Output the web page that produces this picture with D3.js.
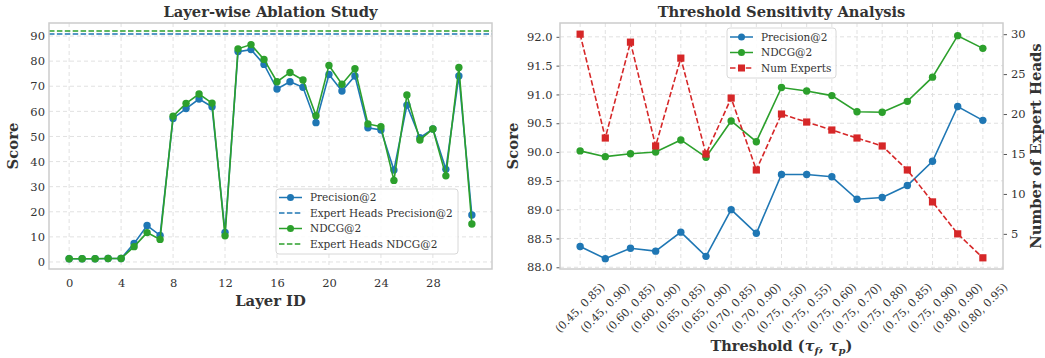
<!DOCTYPE html>
<html>
<head>
<meta charset="utf-8">
<script src="https://cdn.jsdelivr.net/npm/d3@7"></script>
<style>
  body { margin: 0; background: #fff; }
  text { font-family: "DejaVu Serif", serif; fill: #333; }
</style>
</head>
<body>
<div id="vis"></div>
<script>
// ---- data: layer-wise ablation ----
const layers = d3.range(32);
const layerPrecision = [1.3, 1.3, 1.3, 1.4, 1.4, 7.4, 14.5, 10.6, 57.2, 61.1, 64.9, 61.8, 11.8, 83.8, 84.6, 78.7,
  68.9, 71.8, 69.6, 55.5, 74.7, 68.1, 74.1, 53.5, 52.6, 36.6, 62.5, 49.5, 53.0, 36.9, 74.1, 18.7];
const layerNdcg = [1.3, 1.3, 1.3, 1.4, 1.4, 6.1, 11.7, 9.0, 58.1, 63.2, 66.9, 63.3, 10.4, 84.9, 86.6, 80.7,
  71.8, 75.5, 72.5, 58.3, 78.3, 70.8, 77.0, 55.0, 53.9, 32.5, 66.5, 48.6, 53.0, 34.3, 77.5, 15.1];
const expertPrecision = 90.8;
const expertNdcg = 92.0;
const layerTicks = [0, 4, 8, 12, 16, 20, 24, 28];
const scoreTicks = [0, 10, 20, 30, 40, 50, 60, 70, 80, 90];

// ---- data: threshold sensitivity ----
const thresholds = ["(0.45, 0.85)", "(0.45, 0.90)", "(0.60, 0.85)", "(0.60, 0.90)", "(0.65, 0.85)", "(0.65, 0.90)",
  "(0.70, 0.85)", "(0.70, 0.90)", "(0.75, 0.50)", "(0.75, 0.55)", "(0.75, 0.60)", "(0.75, 0.70)", "(0.75, 0.80)",
  "(0.75, 0.85)", "(0.75, 0.90)", "(0.80, 0.90)", "(0.80, 0.95)"];
const thrPrecision = [88.36, 88.15, 88.33, 88.28, 88.61, 88.19, 89.0, 88.59, 89.61, 89.61, 89.57, 89.18, 89.21,
  89.42, 89.84, 90.79, 90.55];
const thrNdcg = [90.02, 89.92, 89.97, 90.0, 90.21, 89.91, 90.54, 90.18, 91.12, 91.06, 90.98, 90.70, 90.69,
  90.88, 91.30, 92.02, 91.80];
const numExperts = [30, 17, 29, 16, 27, 15, 22, 13, 20, 19, 18, 17, 16, 13, 9, 5, 2];
const thrScoreTicks = [88.0, 88.5, 89.0, 89.5, 90.0, 90.5, 91.0, 91.5, 92.0];
const expertTicks = [5, 10, 15, 20, 25, 30];

const blue = "#1f77b4", green = "#2ca02c", red = "#d62728";
const gridColor = "#dedede", spineColor = "#cccccc";

const svg = d3.select("#vis").append("svg")
  .attr("width", 1045)
  .attr("height", 358);

// panel boxes (pixel frames of the two axes)
const p1 = { left: 49, top: 23, right: 492, bottom: 269 };
const p2 = { left: 560, top: 23, right: 1003, bottom: 269 };

// ================= left panel =================
const x1 = d3.scaleLinear().domain([-1.55, 32.55]).range([p1.left, p1.right]);
const y1 = d3.scaleLinear().domain([-2.8, 95.2]).range([p1.bottom, p1.top]);

const g1 = svg.append("g");

// grid
g1.selectAll(".vgrid").data(layerTicks).enter().append("line")
  .attr("x1", d => x1(d)).attr("x2", d => x1(d))
  .attr("y1", p1.top).attr("y2", p1.bottom)
  .attr("stroke", gridColor).attr("stroke-dasharray", "4,3").attr("stroke-width", 0.9);
g1.selectAll(".hgrid").data(scoreTicks).enter().append("line")
  .attr("x1", p1.left).attr("x2", p1.right)
  .attr("y1", d => y1(d)).attr("y2", d => y1(d))
  .attr("stroke", gridColor).attr("stroke-dasharray", "4,3").attr("stroke-width", 0.9);

// axes
const ax1 = g1.append("g")
  .attr("transform", `translate(0, ${p1.bottom})`)
  .call(d3.axisBottom(x1).tickValues(layerTicks).tickSize(0).tickPadding(10));
const ay1 = g1.append("g")
  .attr("transform", `translate(${p1.left}, 0)`)
  .call(d3.axisLeft(y1).tickValues(scoreTicks).tickSize(0).tickPadding(4));
[ax1, ay1].forEach(a => {
  a.select(".domain").remove();
  a.selectAll("text").attr("font-size", "11.5px").attr("font-family", "DejaVu Serif").style("fill", "#333");
});

// expert heads reference lines
g1.append("line")
  .attr("x1", p1.left).attr("x2", p1.right)
  .attr("y1", y1(expertPrecision)).attr("y2", y1(expertPrecision))
  .attr("stroke", blue).attr("stroke-width", 1.5).attr("stroke-dasharray", "5.5,2.4");
g1.append("line")
  .attr("x1", p1.left).attr("x2", p1.right)
  .attr("y1", y1(expertNdcg)).attr("y2", y1(expertNdcg))
  .attr("stroke", green).attr("stroke-width", 1.5).attr("stroke-dasharray", "5.5,2.4");

const line1 = d3.line().x((d, i) => x1(layers[i])).y(d => y1(d));
[[layerPrecision, blue], [layerNdcg, green]].forEach(([vals, color]) => {
  g1.append("path")
    .datum(vals)
    .attr("d", line1)
    .attr("fill", "none")
    .attr("stroke", color)
    .attr("stroke-width", 1.6);
  g1.selectAll(null).data(vals).enter().append("circle")
    .attr("cx", (d, i) => x1(layers[i]))
    .attr("cy", d => y1(d))
    .attr("r", 3.7)
    .attr("fill", color);
});

// frame
g1.append("rect")
  .attr("x", p1.left).attr("y", p1.top)
  .attr("width", p1.right - p1.left).attr("height", p1.bottom - p1.top)
  .attr("fill", "none").attr("stroke", spineColor).attr("stroke-width", 1.5);

// titles
g1.append("text")
  .attr("x", (p1.left + p1.right) / 2).attr("y", 17)
  .attr("text-anchor", "middle").attr("font-size", "14.7px").attr("font-weight", "bold")
  .text("Layer-wise Ablation Study");
g1.append("text")
  .attr("x", (p1.left + p1.right) / 2).attr("y", 306)
  .attr("text-anchor", "middle").attr("font-size", "14.8px").attr("font-weight", "bold")
  .text("Layer ID");
g1.append("text")
  .attr("transform", "rotate(-90)")
  .attr("x", -(p1.top + p1.bottom) / 2).attr("y", 18)
  .attr("text-anchor", "middle").attr("font-size", "14.8px").attr("font-weight", "bold")
  .text("Score");

// legend
const leg1 = g1.append("g").attr("transform", "translate(276, 189)");
leg1.append("rect")
  .attr("width", 182).attr("height", 65).attr("rx", 3)
  .attr("fill", "white").attr("fill-opacity", 0.85)
  .attr("stroke", "#d8d8d8");
const leg1Items = [
  { label: "Precision@2", color: blue, dash: null, marker: true },
  { label: "Expert Heads Precision@2", color: blue, dash: "5.5,2.4", marker: false },
  { label: "NDCG@2", color: green, dash: null, marker: true },
  { label: "Expert Heads NDCG@2", color: green, dash: "5.5,2.4", marker: false }
];
leg1Items.forEach((it, i) => {
  const row = leg1.append("g").attr("transform", `translate(0, ${8.5 + i * 15.5})`);
  row.append("line")
    .attr("x1", 3).attr("x2", 26).attr("y1", 0).attr("y2", 0)
    .attr("stroke", it.color).attr("stroke-width", 1.5)
    .attr("stroke-dasharray", it.dash);
  if (it.marker) row.append("circle").attr("cx", 14.5).attr("cy", 0).attr("r", 3.5).attr("fill", it.color);
  row.append("text")
    .attr("x", 34).attr("y", 0).attr("dy", "0.35em")
    .attr("font-size", "10.5px")
    .text(it.label);
});

// ================= right panel =================
const x2 = d3.scaleLinear().domain([-0.8, 16.8]).range([p2.left, p2.right]);
const y2 = d3.scaleLinear().domain([87.97, 92.24]).range([p2.bottom, p2.top]);
const y2r = d3.scaleLinear().domain([0.6, 31.4]).range([p2.bottom, p2.top]);

const g2 = svg.append("g");

g2.selectAll(".vgrid").data(thresholds).enter().append("line")
  .attr("x1", (d, i) => x2(i)).attr("x2", (d, i) => x2(i))
  .attr("y1", p2.top).attr("y2", p2.bottom)
  .attr("stroke", gridColor).attr("stroke-dasharray", "4,3").attr("stroke-width", 0.9);
g2.selectAll(".hgrid").data(thrScoreTicks).enter().append("line")
  .attr("x1", p2.left).attr("x2", p2.right)
  .attr("y1", d => y2(d)).attr("y2", d => y2(d))
  .attr("stroke", gridColor).attr("stroke-dasharray", "4,3").attr("stroke-width", 0.9);

const ay2 = g2.append("g")
  .attr("transform", `translate(${p2.left}, 0)`)
  .call(d3.axisLeft(y2).tickValues(thrScoreTicks).tickFormat(d3.format(".1f")).tickSize(3.5).tickPadding(4));
const ay2r = g2.append("g")
  .attr("transform", `translate(${p2.right}, 0)`)
  .call(d3.axisRight(y2r).tickValues(expertTicks).tickSize(4).tickPadding(4));
[ay2, ay2r].forEach(a => {
  a.select(".domain").remove();
  a.selectAll("line").attr("stroke", "#555");
  a.selectAll("text").attr("font-size", "11.5px").attr("font-family", "DejaVu Serif").style("fill", "#333");
});

// rotated category labels, centred under each tick
const xl = g2.append("g");
thresholds.forEach((t, i) => {
  xl.append("text")
    .attr("text-anchor", "middle")
    .attr("dominant-baseline", "central")
    .attr("font-size", "11px")
    .attr("transform", `translate(${x2(i)}, ${p2.bottom + 39}) rotate(-45)`)
    .text(t);
});

const line2 = d3.line().x((d, i) => x2(i)).y(d => y2(d));
[[thrPrecision, blue], [thrNdcg, green]].forEach(([vals, color]) => {
  g2.append("path")
    .datum(vals)
    .attr("d", line2)
    .attr("fill", "none")
    .attr("stroke", color)
    .attr("stroke-width", 1.6);
  g2.selectAll(null).data(vals).enter().append("circle")
    .attr("cx", (d, i) => x2(i))
    .attr("cy", d => y2(d))
    .attr("r", 3.7)
    .attr("fill", color);
});

const lineR = d3.line().x((d, i) => x2(i)).y(d => y2r(d));
g2.append("path")
  .datum(numExperts)
  .attr("d", lineR)
  .attr("fill", "none")
  .attr("stroke", red)
  .attr("stroke-width", 1.6)
  .attr("stroke-dasharray", "5.5,2.4");
g2.selectAll(null).data(numExperts).enter().append("rect")
  .attr("x", (d, i) => x2(i) - 3.6)
  .attr("y", d => y2r(d) - 3.6)
  .attr("width", 7.2).attr("height", 7.2)
  .attr("fill", red);

g2.append("rect")
  .attr("x", p2.left).attr("y", p2.top)
  .attr("width", p2.right - p2.left).attr("height", p2.bottom - p2.top)
  .attr("fill", "none").attr("stroke", spineColor).attr("stroke-width", 1.5);

g2.append("text")
  .attr("x", (p2.left + p2.right) / 2).attr("y", 17)
  .attr("text-anchor", "middle").attr("font-size", "14.7px").attr("font-weight", "bold")
  .text("Threshold Sensitivity Analysis");
const xt = g2.append("text")
  .attr("x", (p2.left + p2.right) / 2).attr("y", 351)
  .attr("text-anchor", "middle").attr("font-size", "14.5px").attr("font-weight", "bold");
xt.append("tspan").text("Threshold (");
xt.append("tspan").attr("font-style", "italic").text("τ");
xt.append("tspan").attr("font-style", "italic").attr("font-size", "10px").attr("dy", 3).text("f");
xt.append("tspan").attr("dy", -3).text(", ");
xt.append("tspan").attr("font-style", "italic").text("τ");
xt.append("tspan").attr("font-style", "italic").attr("font-size", "10px").attr("dy", 3).text("p");
xt.append("tspan").attr("dy", -3).text(")");
g2.append("text")
  .attr("transform", "rotate(-90)")
  .attr("x", -(p2.top + p2.bottom) / 2).attr("y", 518)
  .attr("text-anchor", "middle").attr("font-size", "14.8px").attr("font-weight", "bold")
  .text("Score");
g2.append("text")
  .attr("transform", "rotate(-90)")
  .attr("x", -(p2.top + p2.bottom) / 2).attr("y", 1041)
  .attr("text-anchor", "middle").attr("font-size", "14.8px").attr("font-weight", "bold")
  .text("Number of Expert Heads");

const leg2 = g2.append("g").attr("transform", "translate(727, 28)");
leg2.append("rect")
  .attr("width", 109).attr("height", 50).attr("rx", 3)
  .attr("fill", "white").attr("fill-opacity", 0.85)
  .attr("stroke", "#d8d8d8");
const leg2Items = [
  { label: "Precision@2", color: blue, dash: null, shape: "circle" },
  { label: "NDCG@2", color: green, dash: null, shape: "circle" },
  { label: "Num Experts", color: red, dash: "5.5,2.4", shape: "square" }
];
leg2Items.forEach((it, i) => {
  const row = leg2.append("g").attr("transform", `translate(0, ${9 + i * 15.5})`);
  row.append("line")
    .attr("x1", 3).attr("x2", 26).attr("y1", 0).attr("y2", 0)
    .attr("stroke", it.color).attr("stroke-width", 1.5)
    .attr("stroke-dasharray", it.dash);
  if (it.shape === "circle") {
    row.append("circle").attr("cx", 14.5).attr("cy", 0).attr("r", 3.5).attr("fill", it.color);
  } else {
    row.append("rect").attr("x", 11).attr("y", -3.5).attr("width", 7).attr("height", 7).attr("fill", it.color);
  }
  row.append("text")
    .attr("x", 34).attr("y", 0).attr("dy", "0.35em")
    .attr("font-size", "10.5px")
    .text(it.label);
});
</script>
</body>
</html>
